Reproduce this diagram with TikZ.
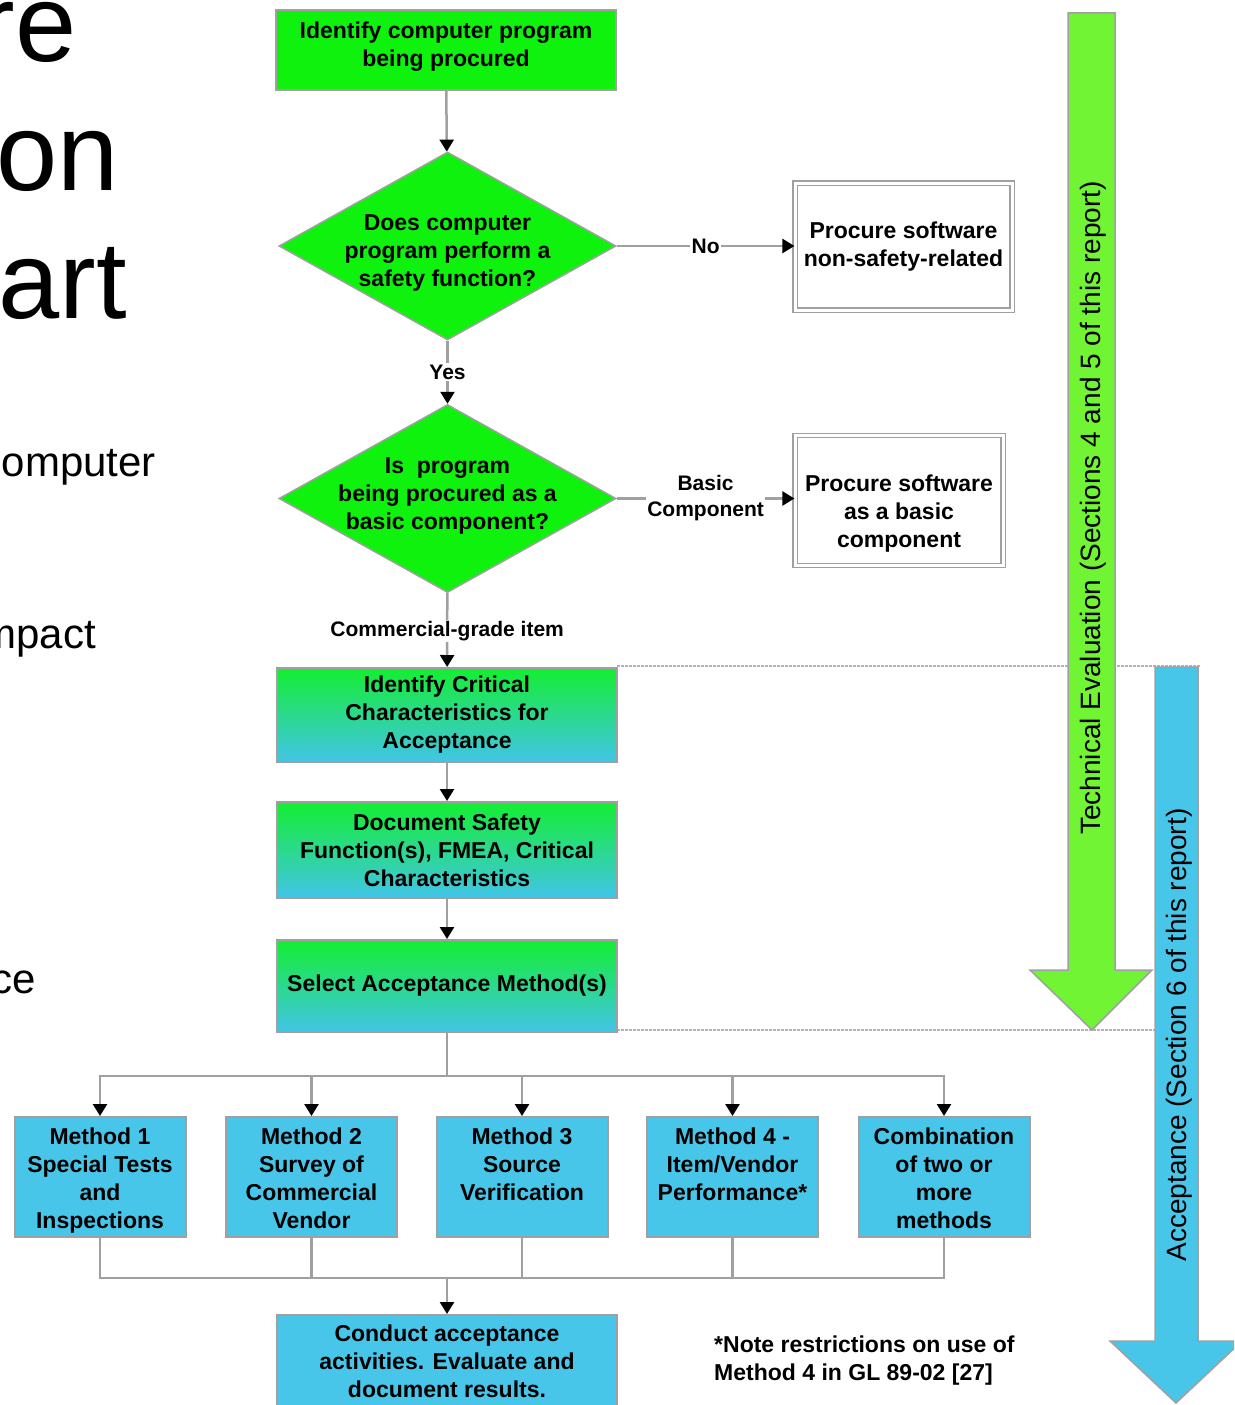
\documentclass[tikz,border=0pt]{standalone}
\usepackage{fontspec}
\setmainfont{Liberation Sans}
\usetikzlibrary{arrows.meta,shapes.geometric}
\definecolor{bgreen}{RGB}{14,242,14}
\definecolor{gtop}{RGB}{20,238,50}
\definecolor{gbot}{RGB}{66,196,232}
\definecolor{mblue}{RGB}{72,198,234}
\definecolor{agreen}{RGB}{112,244,52}
\definecolor{lgray}{RGB}{160,160,160}
\newcommand{\bxfont}{\fontsize{23}{28}\selectfont\bfseries}
\newcommand{\lbfont}{\fontsize{21}{26}\selectfont\bfseries}
\newcommand{\topstrut}{\rule{0pt}{27.6pt}}
\begin{document}
\begin{tikzpicture}[x=1pt,y=-1pt,
  box/.style={draw=lgray, line width=2pt, inner sep=0pt, align=center, font=\bxfont, text=black},
  greenbox/.style={box, fill=bgreen},
  gradbox/.style={box, top color=gtop, bottom color=gbot},
  methbox/.style={box, fill=mblue, minimum width=171pt, minimum height=120pt},
  sidebox/.style={draw=lgray, double=white, double distance=3pt, line width=1.2pt, fill=white, inner sep=0pt, align=center, font=\bxfont},
  dia/.style={diamond, draw=lgray, line width=1.5pt, fill=bgreen, inner sep=0pt, minimum width=337pt, minimum height=188pt},
  line/.style={draw=lgray, line width=2.5pt},
  conn/.style={line, -{Triangle[length=12pt,width=14pt,color=black]}},
  lbl/.style={fill=white, inner sep=1.5pt, font=\lbfont, align=center},
  title/.style={inner sep=0pt, anchor=base east, font=\fontsize{110}{130}\selectfont},
  bullet/.style={inner sep=0pt, anchor=base east, font=\fontsize{42}{50}\selectfont},
  bigtxt/.style={rotate=90, font=\fontsize{28}{32}\selectfont, inner sep=0pt},
  region/.style={draw=lgray!80, line width=2.5pt, dash pattern=on 2.5pt off 1.5pt}
]
\useasboundingbox (0,0) rectangle (1234,1405);
\clip (0,0) rectangle (1234,1405);

% left slide text fragments
\node[title] (t1) at (77,62) {re};
\node[title] (t2) at (119,190) {on};
\node[title] (t3) at (127,318) {art};
\node[bullet] (s1) at (156,476) {omputer};
\node[bullet] (s2) at (96,648) {mpact};
\node[bullet] (s3) at (36,993) {ce};

% dotted region lines
\draw[region] (617,666) -- (1200,666);
\draw[region] (617,1030) -- (1156,1030);

% big arrows
\draw[lgray, line width=1.5pt, fill=agreen] (1068,13) -- (1115,13) -- (1115,970) -- (1152,970) -- (1092,1030) -- (1030,970) -- (1068,970) -- cycle;
\node[bigtxt] (te) at (1093,508) {Technical Evaluation (Sections 4 and 5 of this report)};
\draw[lgray, line width=1.5pt, fill=mblue] (1155,667) -- (1198,667) -- (1198,1341) -- (1242,1341) -- (1176,1403) -- (1110,1341) -- (1155,1341) -- cycle;
\node[bigtxt] (ac) at (1179,1035) {Acceptance (Section 6 of this report)};

% flowchart nodes
\node[greenbox, minimum width=340pt, minimum height=80pt, label={[font=\bxfont, align=center, yshift=3pt]center:Identify computer program\\being procured}] (b1) at (446,50) {};
\node[dia, label={[font=\bxfont, align=center, yshift=-7pt]center:Does computer\\program perform a\\safety function?}] (d1) at (447.5,246) {};
\node[sidebox, minimum width=217pt, minimum height=127pt] (ns) at (903.5,246.5) {Procure software\\non-safety-related};
\node[dia, label={[font=\bxfont, align=center, yshift=3pt]center:Is\ \ program\\being procured as a\\basic component?}] (d2) at (447.5,498.5) {};
\node[sidebox, minimum width=208pt, minimum height=130pt, label={[font=\bxfont, align=center, yshift=-13pt]center:Procure software\\as a basic\\component}] (bc) at (899,500.5) {};
\node[gradbox, minimum width=340pt, minimum height=94pt] (c1) at (447,715) {Identify Critical\\Characteristics for\\Acceptance};
\node[gradbox, minimum width=340pt, minimum height=96pt] (c2) at (447,850) {Document Safety\\Function(s), FMEA, Critical\\Characteristics};
\node[gradbox, minimum width=340pt, minimum height=92pt] (c3) at (447,986) {Select Acceptance Method(s)};

\node[methbox] (m1) at (100,1177) {\topstrut Method 1\\\strut Special Tests\\\strut and\\\strut Inspections};
\node[methbox] (m2) at (311.5,1177) {\topstrut Method 2\\\strut Survey of\\\strut Commercial\\\strut Vendor};
\node[methbox] (m3) at (522,1177) {\topstrut Method 3\\\strut Source\\\strut Verification\\\strut};
\node[methbox] (m4) at (732.5,1177) {\topstrut Method 4 -\\\strut Item/Vendor\\\strut Performance*\\\strut};
\node[methbox] (m5) at (944,1177) {\topstrut Combination\\\strut of two or\\\strut more\\\strut methods};

\node[box, fill=mblue, minimum width=340pt, minimum height=100pt, label={[font=\bxfont, align=center, yshift=4pt]center:Conduct acceptance\\activities. Evaluate and\\document results.}] (fin) at (447,1365) {};

\node[font=\bxfont, align=left, anchor=west, inner sep=0pt] (note) at (714,1361) {*Note restrictions on use of\\Method 4 in GL 89-02 [27]};

% connectors
\draw[conn] (b1) -- (d1);
\draw[conn] (d1.east) -- node[lbl] (lno) {No} (d1.east -| ns.west);
\draw[conn] (d1) -- node[lbl] (lyes) {Yes} (d2);
\draw[conn] (d2.east) -- node[lbl] (lbasic) {Basic\\Component} (d2.east -| bc.west);
\draw[conn] (d2) -- node[lbl, yshift=-1pt] (lcg) {Commercial-grade item} (c1);
\draw[conn] (c1) -- (c2);
\draw[conn] (c2) -- (c3);

\coordinate (split) at (447,1076);
\coordinate (merge) at (447,1278);
\draw[line] (c3) -- (split);
\foreach \m in {m1,m2,m3,m4,m5} {
  \draw[conn] (split) -| (\m);
  \draw[line] (\m) |- (merge);
}
\draw[conn] (merge) -- (fin);
\end{tikzpicture}
\end{document}
